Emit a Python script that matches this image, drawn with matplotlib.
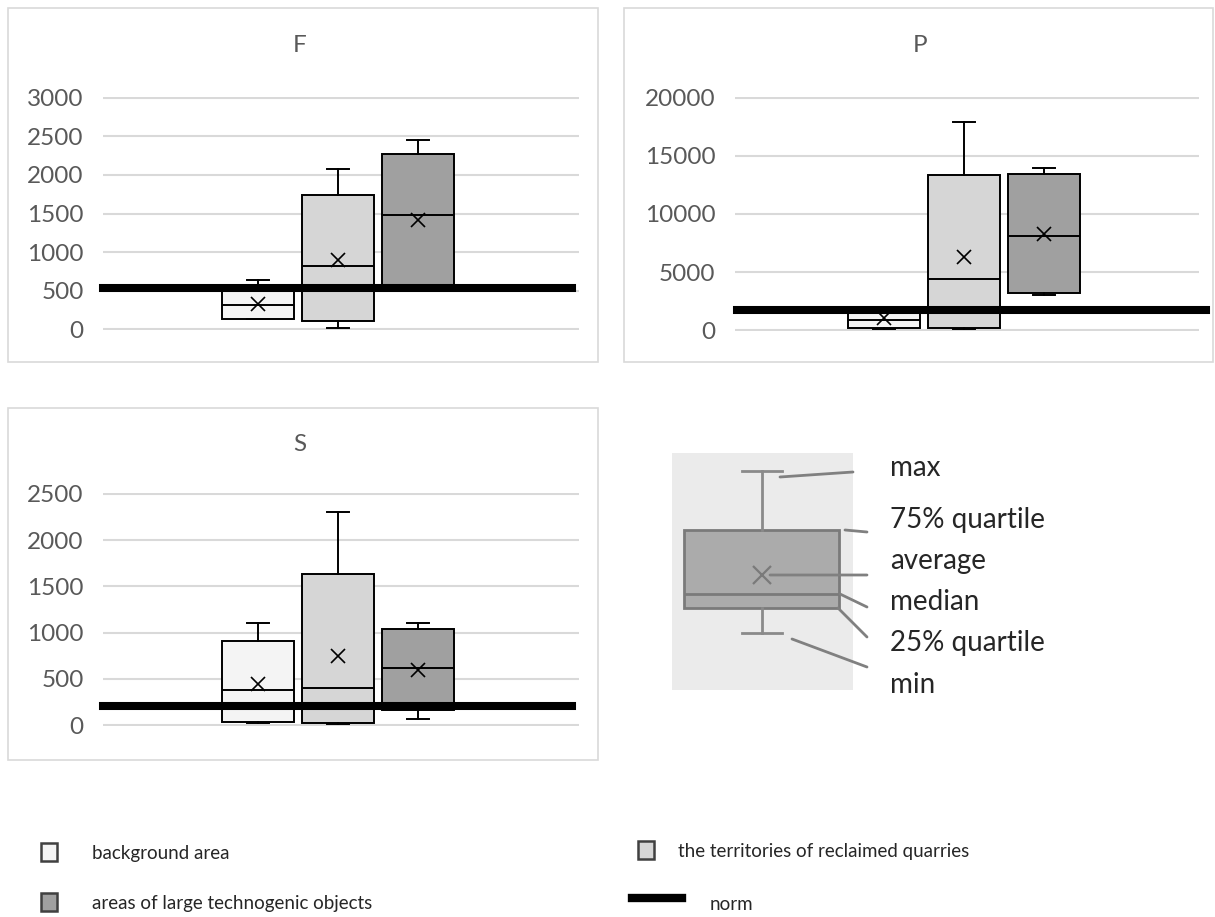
import numpy as np
import matplotlib
matplotlib.use('Agg')
import matplotlib.pyplot as plt
from matplotlib.patches import Rectangle
from matplotlib.lines import Line2D

plt.rcParams['font.family'] = ['Lato', 'DejaVu Sans']

#%% values

groups = ['background area', 'the territories of reclaimed quarries',
          'areas of large technogenic objects']
box_colors = ['#f4f4f4', '#d6d6d6', '#a0a0a0']

# F
F_min = [130, 20, 540]
F_q1 = [135, 105, 550]
F_med = [310, 825, 1475]
F_q3 = [490, 1740, 2270]
F_max = [635, 2075, 2460]
F_mean = [330, 895, 1410]
F_norm = 530

# P
P_min = [90, 60, 3040]
P_q1 = [170, 200, 3160]
P_med = [880, 4410, 8140]
P_q3 = [1500, 13400, 13460]
P_max = [1900, 17950, 13940]
P_mean = [1000, 6290, 8250]
P_norm = 1760

# S
S_min = [18, 10, 65]
S_q1 = [36, 20, 160]
S_med = [375, 400, 620]
S_q3 = [910, 1635, 1040]
S_max = [1100, 2305, 1100]
S_mean = [445, 745, 600]
S_norm = 210

# example box for the explanation
ex_labels = ['max', '75% quartile', 'average', 'median', '25% quartile', 'min']
ex_stats = dict(whislo=57, q1=82, med=96, mean=115, q3=160, whishi=219)

#%%

W, H = 1215, 917
fig = plt.figure(figsize=(W / 100, H / 100), dpi=100)
fig.patch.set_facecolor('white')


def fr(x, y):
    """ pixel (von oben) -> figure fraction """
    return x / W, 1 - y / H


def panel_box(x0, y0, x1, y1):
    l, b = fr(x0, y1)
    fig.add_artist(Rectangle((l, b), (x1 - x0) / W, (y1 - y0) / H, transform=fig.transFigure,
                             facecolor='white', edgecolor='#d9d9d9', linewidth=1.2, zorder=0))


def make_stats(lo, q1, med, q3, hi, mean):
    return [dict(whislo=a, q1=b, med=c, q3=d, whishi=e, mean=f, fliers=[])
            for a, b, c, d, e, f in zip(lo, q1, med, q3, hi, mean)]


def draw_panel(rect, title, title_xy, st, norm, ymax, step, xlim, norm_span):
    l, b = fr(rect[0], rect[3])
    ax = fig.add_axes([l, b, (rect[2] - rect[0]) / W, (rect[3] - rect[1]) / H])
    ax.set_facecolor('none')
    bp = ax.bxp(st, positions=[1, 2, 3], widths=0.9, patch_artist=True, showmeans=True,
                capwidths=0.28, manage_ticks=False,
                boxprops=dict(edgecolor='black', linewidth=1.4),
                medianprops=dict(color='black', linewidth=1.4),
                whiskerprops=dict(color='black', linewidth=1.4),
                capprops=dict(color='black', linewidth=1.4),
                meanprops=dict(marker='x', markeredgecolor='black', markersize=10,
                               markeredgewidth=1.2))
    for patch, c in zip(bp['boxes'], box_colors):
        patch.set_facecolor(c)
    ax.axhline(norm, xmin=norm_span[0], xmax=norm_span[1], color='black',
               linewidth=5.8, zorder=5, clip_on=False)
    ax.set_xlim(*xlim)
    ax.set_ylim(-ymax * 0.004, ymax * 1.004)
    ax.set_yticks(np.arange(0, ymax + 1, step))
    ax.set_xticks([])
    ax.grid(axis='y', color='#d9d9d9', linewidth=1.5)
    ax.set_axisbelow(True)
    for s in ax.spines.values():
        s.set_visible(False)
    ax.tick_params(axis='y', length=0, pad=14, labelsize=17.5, labelcolor='#595959')
    tx, ty = fr(*title_xy)
    fig.text(tx, ty, title, fontsize=17.5, color='#595959', ha='center', va='center')
    return ax


panel_box(8, 8, 598, 362)
panel_box(624, 8, 1213, 362)
panel_box(8, 408, 598, 760)

draw_panel((103, 97, 579, 330), 'F', (300, 45),
           make_stats(F_min, F_q1, F_med, F_q3, F_max, F_mean),
           F_norm, 3000, 500, (-0.94, 5.01), (0, 0.985))
draw_panel((735, 97, 1199, 331), 'P', (920, 45),
           make_stats(P_min, P_q1, P_med, P_q3, P_max, P_mean),
           P_norm, 20000, 5000, (-0.86, 4.94), (0.005, 1.015))
draw_panel((103, 493, 579, 726), 'S', (300, 445),
           make_stats(S_min, S_q1, S_med, S_q3, S_max, S_mean),
           S_norm, 2500, 500, (-0.94, 5.01), (0, 0.985))

#%% explanation box

l, b = fr(672, 690)
axe = fig.add_axes([l, b, 181 / W, 237 / H])
axe.set_facecolor('#ebebeb')
ebp = axe.bxp([dict(ex_stats, fliers=[])], positions=[90], widths=155, capwidths=40,
              patch_artist=True, showmeans=True, manage_ticks=False,
              boxprops=dict(edgecolor='#7a7a7a', facecolor='#ababab', linewidth=2),
              medianprops=dict(color='#7a7a7a', linewidth=2),
              whiskerprops=dict(color='#8a8a8a', linewidth=2),
              capprops=dict(color='#8a8a8a', linewidth=2),
              meanprops=dict(marker='x', markeredgecolor='#7a7a7a', markersize=13,
                             markeredgewidth=1.6))
axe.set_xlim(0, 181)
axe.set_ylim(0, 237)
axe.set_xticks([])
axe.set_yticks([])
for s in axe.spines.values():
    s.set_visible(False)

# leader lines: start in box data, end near label (pixel von oben)
lead_start = [(108, 213), (173, 160), (98, 115), (168, 96), (166, 82), (120, 51)]
lead_end = [(853, 472), (867, 532), (867, 575), (867, 607), (867, 637), (867, 667)]
label_y = [468, 520, 561, 602, 643, 685]
for (sx, sy), (ex, ey) in zip(lead_start, lead_end):
    axe.annotate('', xy=(sx, sy), xycoords='data', xytext=(ex, H - ey),
                 textcoords='figure pixels', annotation_clip=False,
                 arrowprops=dict(arrowstyle='-', color='#808080', linewidth=2,
                                 shrinkA=0, shrinkB=0))
for lab, y in zip(ex_labels, label_y):
    tx, ty = fr(890, y)
    fig.text(tx, ty, lab, fontsize=20, color='#262626', ha='left', va='center')

#%% legend unten

leg_pos = [(41, 852), (41, 902), (638, 850)]
leg_text_x = [92, 92, 678]
for (x, y), c, lab, txx in zip(leg_pos, [box_colors[0], box_colors[2], box_colors[1]],
                               [groups[0], groups[2], groups[1]], leg_text_x):
    l, b = fr(x, y + 9)
    fig.add_artist(Rectangle((l, b), 16 / W, 18 / H, transform=fig.transFigure,
                             facecolor=c, edgecolor='#404040', linewidth=1.8))
    tx, ty = fr(txx, y + 2)
    fig.text(tx, ty, lab, fontsize=13.5, color='#262626', ha='left', va='center')

x0, y0 = fr(632, 898)
x1, _ = fr(682, 898)
fig.add_artist(Line2D([x0, x1], [y0, y0], color='black', linewidth=6,
                      transform=fig.transFigure))
tx, ty = fr(710, 904)
fig.text(tx, ty, 'norm', fontsize=13.5, color='#262626', ha='left', va='center')

fig.savefig('out.png', dpi=100)
